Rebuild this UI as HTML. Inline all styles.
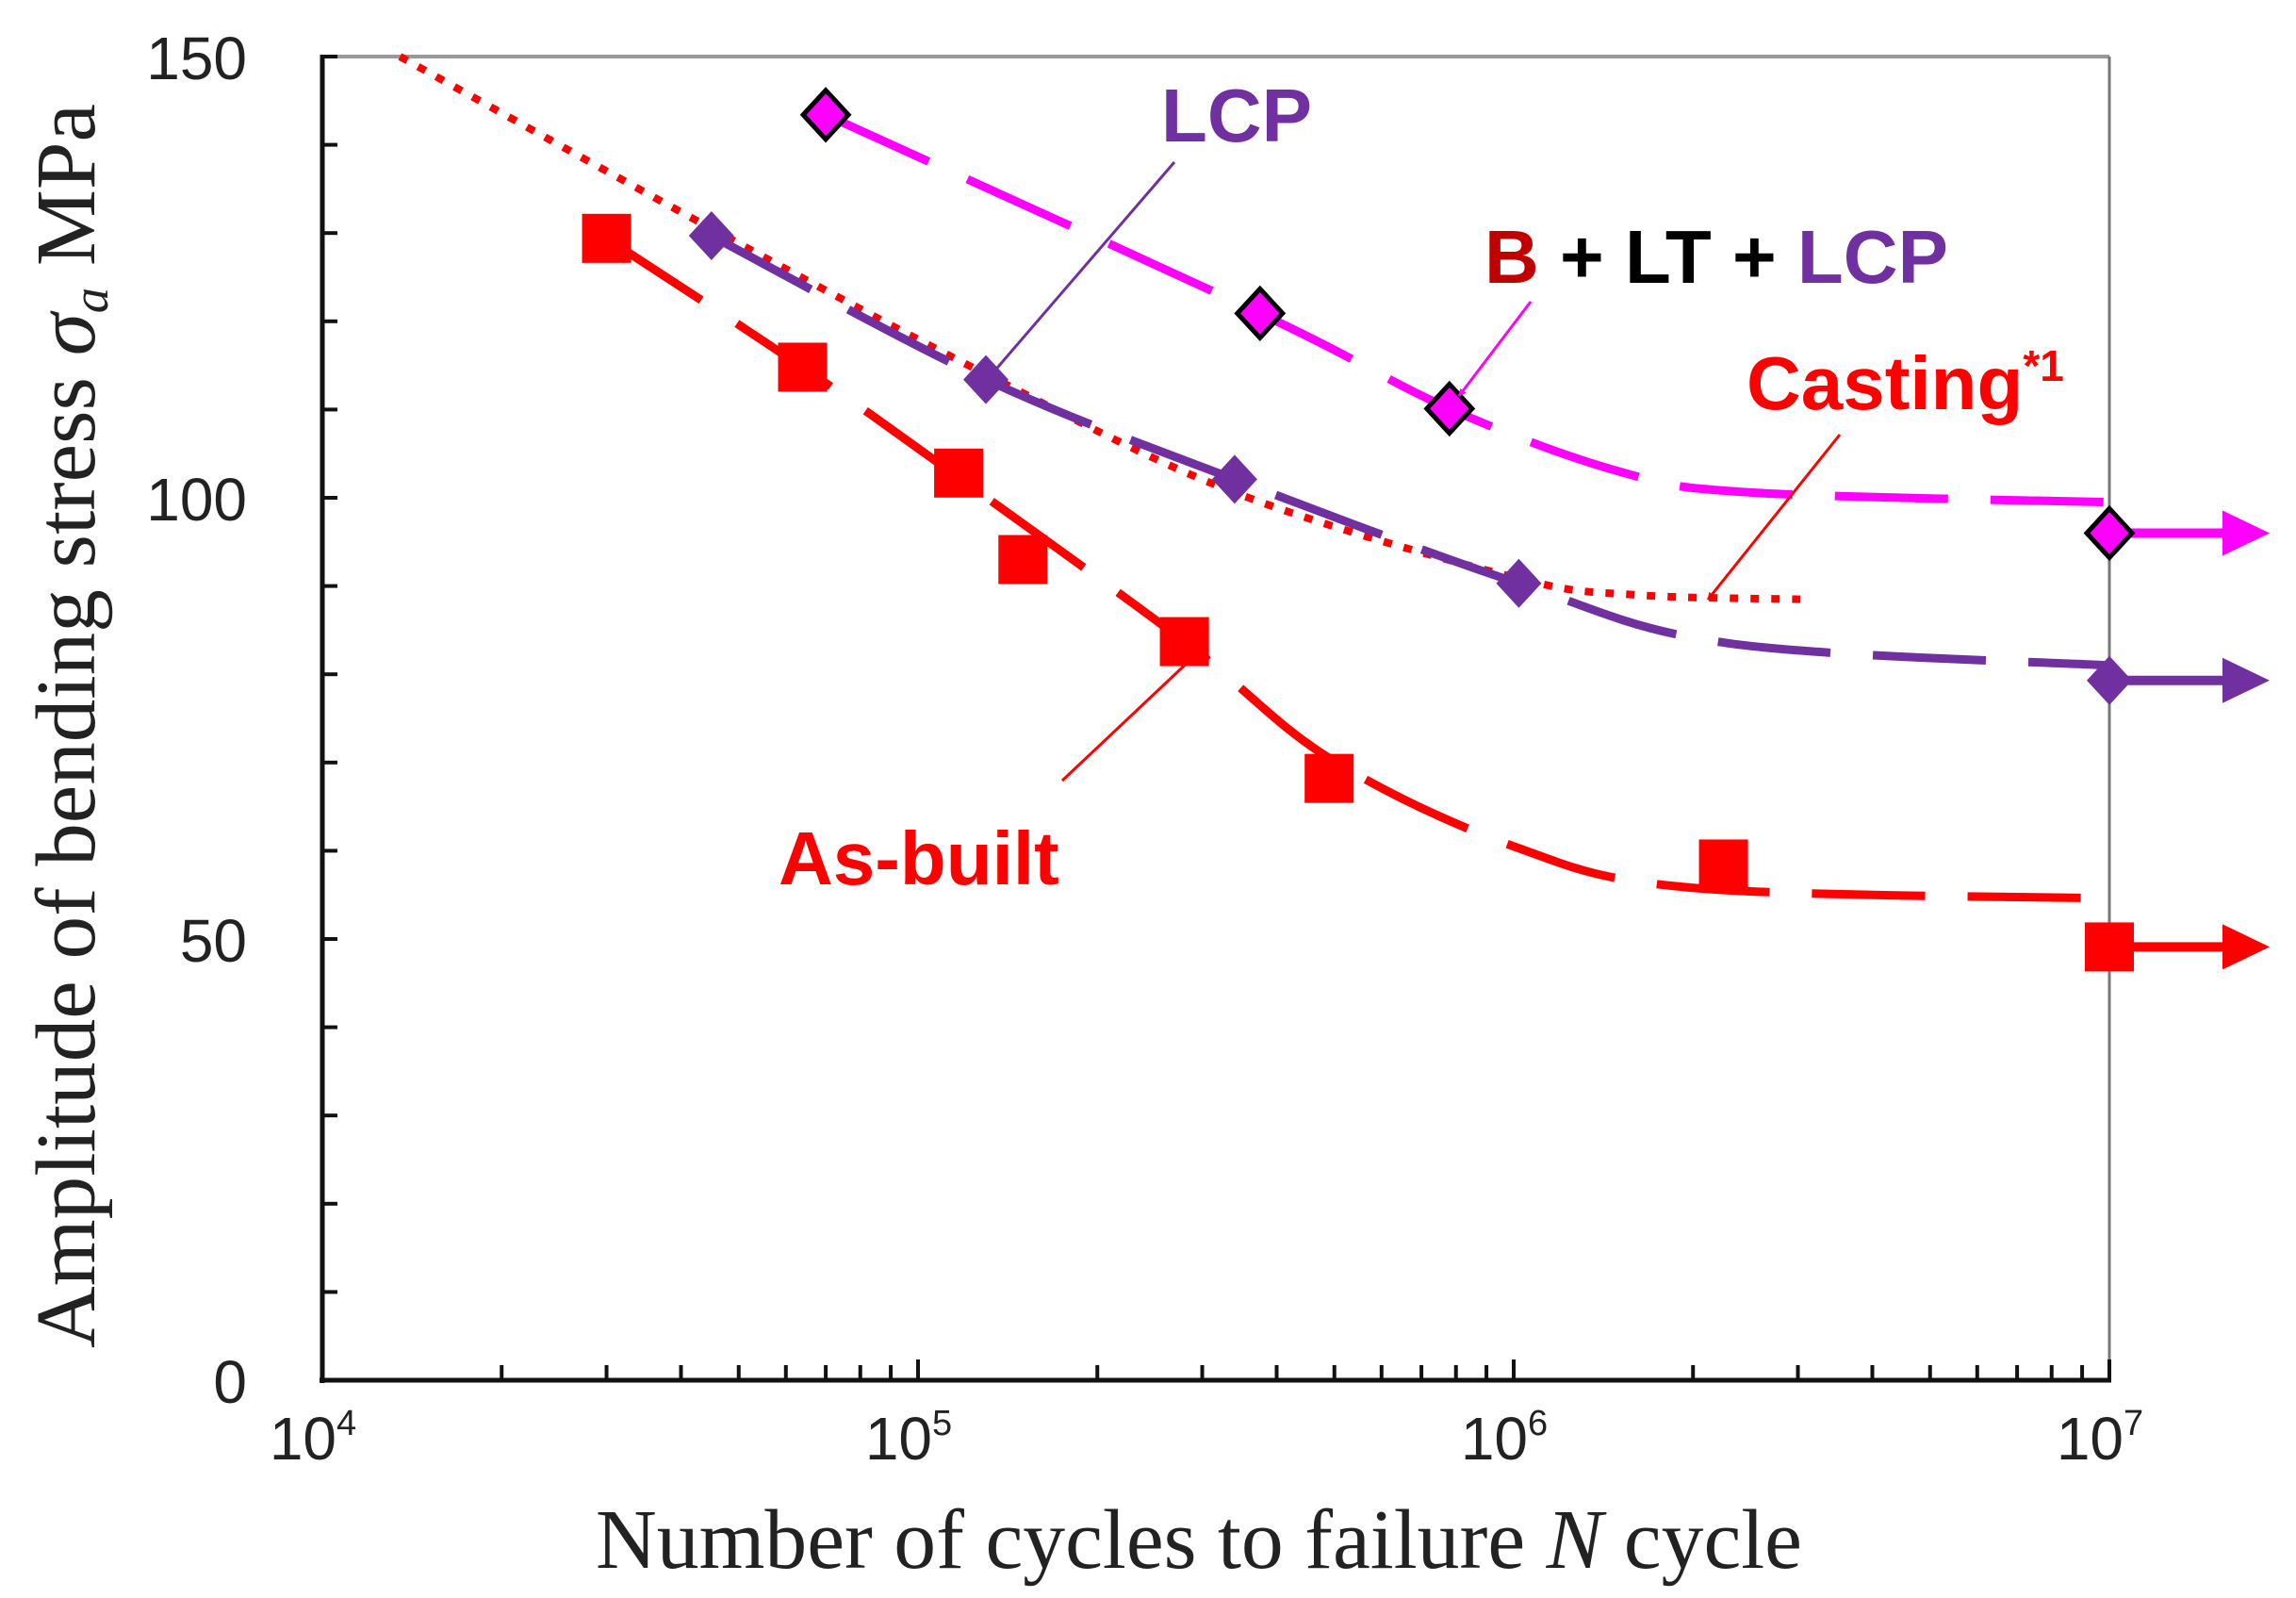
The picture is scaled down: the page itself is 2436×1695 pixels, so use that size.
<!DOCTYPE html>
<html><head><meta charset="utf-8"><style>
html,body{margin:0;padding:0;background:#fff;}
svg{display:block;}
</style></head><body>
<svg id="chart" width="2436" height="1695" viewBox="0 0 2436 1695" xmlns="http://www.w3.org/2000/svg">
<defs>
<marker id="ah" viewBox="0 0 10 10" refX="9" refY="5" markerWidth="8" markerHeight="8" orient="auto" markerUnits="userSpaceOnUse"><path d="M0,0 L10,5 L0,10 z" fill="context-stroke"/></marker>
</defs>
<g id="grid"></g>
<g id="series"></g>
<g id="annot"></g>
</svg>
<script>
// ---- data ----
const xTickExps = [4, 5, 6, 7];
const yTickLabels = [0, 50, 100, 150];
const hybridN = [7e4, 3.75e5, 7.8e5, 1e7];
const hybridS = [143.4, 120.9, 110.1, 96.0];
const lcpN = [4.5e4, 1.3e5, 3.4e5, 1.02e6, 1e7];
const lcpS = [129.7, 113.4, 102.1, 90.3, 79.3];
const asbuiltN = [3e4, 6.4e4, 1.17e5, 1.5e5, 2.8e5, 4.9e5, 2.25e6, 1e7];
const asbuiltS = [129.4, 114.8, 102.8, 93.0, 83.7, 68.2, 58.5, 49.1];
const hybridCurveN = [7e4, 3.75e5, 7.8e5, 1.5e6, 2.5e6, 1e7];
const hybridCurveS = [143.4, 120.9, 110.1, 103.0, 100.6, 99.5];
const lcpCurveN = [4.5e4, 1.3e5, 3.4e5, 1.02e6, 2.3e6, 1e7];
const lcpCurveS = [129.7, 113.4, 102.1, 90.3, 83.5, 81.0];
const asbuiltCurveN = [3e4, 6.4e4, 1.17e5, 2.8e5, 4.9e5, 1e6, 2e6, 1e7];
const asbuiltCurveS = [129.4, 114.8, 102.3, 83.7, 70.5, 60.5, 55.8, 54.6];
const castingN = [1.35e4, 4.5e4, 1.3e5, 3.4e5, 1e6, 1.6e6, 3.04e6];
const castingS = [150, 130.5, 114, 100.6, 91, 89, 88.5];

// ---- axes ----
const X0 = 342, DEC = 632, Y0 = 1464, PXU = 9.36;
const sx = n => X0 + (Math.log10(n) - 4) * DEC;
const sy = s => Y0 - s * PXU;
const NS = 'http://www.w3.org/2000/svg';
function mk(tag, attrs, parent) {
  const e = document.createElementNS(NS, tag);
  for (const k in attrs) e.setAttribute(k, attrs[k]);
  parent.appendChild(e);
  return e;
}
const grid = document.getElementById('grid');
const ser = document.getElementById('series');
const ann = document.getElementById('annot');
const xR = sx(1e7), yT = sy(150);

let e;
e = mk('line', {x1: X0, y1: yT, x2: xR, y2: yT, stroke: '#999', 'stroke-width': 4}, grid);


e = mk('line', {x1: xR, y1: yT, x2: xR, y2: Y0, stroke: '#777', 'stroke-width': 3}, grid);


e = mk('line', {x1: X0, y1: yT - 2, x2: X0, y2: Y0 + 3, stroke: '#111', 'stroke-width': 5}, grid);


e = mk('line', {x1: X0 - 3, y1: Y0, x2: xR + 2, y2: Y0, stroke: '#111', 'stroke-width': 5}, grid);



for (let v = 0; v <= 150; v += 10) {
  e = mk('line', {x1: X0, y1: sy(v), x2: X0 + 16, y2: sy(v), stroke: '#111', 'stroke-width': 4}, grid);
  
  
}
yTickLabels.forEach(v => {
  e = mk('text', {x: 262, y: sy(v) + 24, 'text-anchor': 'end', 'font-family': 'Liberation Sans, sans-serif', 'font-size': 64, fill: '#222'}, grid);
  e.textContent = v;
  
  
});
for (let d = 4; d < 7; d++) {
  for (let m = 2; m <= 10; m++) {
    const n = m * Math.pow(10, d);
    e = mk('line', {x1: sx(n), y1: Y0, x2: sx(n), y2: Y0 - (m === 10 ? 22 : 16), stroke: '#111', 'stroke-width': 4}, grid);
    
    
  }
}
xTickExps.forEach(p => {
  e = mk('text', {x: sx(Math.pow(10, p)) - 10, y: 1548, 'text-anchor': 'middle', 'font-family': 'Liberation Sans, sans-serif', 'font-size': 64, fill: '#222'}, grid);
  
  
  e.textContent = '10';
  const t = mk('tspan', {dy: -26, 'font-size': 38}, e);
  t.textContent = p;
});
e = mk('text', {x: 632, y: 1663, textLength: 1280, lengthAdjust: 'spacingAndGlyphs', 'font-family': 'Liberation Serif, serif', 'font-size': 90, fill: '#222'}, grid);


e.innerHTML = 'Number of cycles to failure  <tspan font-style="italic">N</tspan>  cycle';
e = mk('text', {x: 0, y: 0, transform: 'translate(100,1430) rotate(-90)', textLength: 1320, lengthAdjust: 'spacingAndGlyphs', 'font-family': 'Liberation Serif, serif', 'font-size': 90, fill: '#222'}, grid);


e.innerHTML = 'Amplitude of bending stress  <tspan font-style="italic">σ</tspan><tspan font-style="italic" font-size="54" dy="14">a</tspan><tspan dy="-14">  MPa</tspan>';

function smooth(N, S) {
  const p = N.map((n, i) => [sx(n), sy(S[i])]);
  let d = 'M' + p[0][0] + ',' + p[0][1];
  for (let i = 0; i < p.length - 1; i++) {
    const p0 = p[Math.max(0, i - 1)], p1 = p[i], p2 = p[i + 1], p3 = p[Math.min(p.length - 1, i + 2)];
    const c1 = [p1[0] + (p2[0] - p0[0]) / 6, p1[1] + (p2[1] - p0[1]) / 6];
    const c2 = [p2[0] - (p3[0] - p1[0]) / 6, p2[1] - (p3[1] - p1[1]) / 6];
    d += ' C' + c1 + ' ' + c2 + ' ' + p2;
  }
  return d;
}
e = mk('path', {d: smooth(castingN, castingS), fill: 'none', stroke: '#ff0000', 'stroke-width': 8, 'stroke-dasharray': '9 13'}, ser);


e = mk('path', {d: smooth(asbuiltCurveN, asbuiltCurveS), fill: 'none', stroke: '#ff0000', 'stroke-width': 9, 'stroke-dasharray': '120 45'}, ser);


e = mk('path', {d: smooth(lcpCurveN, lcpCurveS), fill: 'none', stroke: '#7030a0', 'stroke-width': 9, 'stroke-dasharray': '120 45'}, ser);


e = mk('path', {d: smooth(hybridCurveN, hybridCurveS), fill: 'none', stroke: '#ff00ff', 'stroke-width': 9, 'stroke-dasharray': '120 45'}, ser);



function runout(s, col, name) {
  const y = sy(s), x1 = sx(1e7);
  e = mk('line', {x1: x1, y1: y, x2: x1 + 140, y2: y, stroke: col, 'stroke-width': 10}, ser);
  
  
  e = mk('path', {d: `M${x1 + 120},${y - 24} L${x1 + 170},${y} L${x1 + 120},${y + 24} z`, fill: col}, ser);
  
  
}
runout(hybridS[hybridS.length - 1], '#ff00ff', 'hybrid-runout-arrow');
runout(lcpS[lcpS.length - 1], '#7030a0', 'lcp-runout-arrow');
runout(asbuiltS[asbuiltS.length - 1], '#ff0000', 'as-built-runout-arrow');

asbuiltN.forEach((n, i) => {
  e = mk('rect', {x: sx(n) - 26, y: sy(asbuiltS[i]) - 26, width: 52, height: 52, fill: '#ff0000'}, ser);
  
  
});
lcpN.forEach((n, i) => {
  const x = sx(n), y = sy(lcpS[i]);
  e = mk('path', {d: `M${x},${y - 26} L${x + 24},${y} L${x},${y + 26} L${x - 24},${y} z`, fill: '#7030a0'}, ser);
  
  
});
hybridN.forEach((n, i) => {
  const x = sx(n), y = sy(hybridS[i]);
  e = mk('path', {d: `M${x},${y - 26} L${x + 24},${y} L${x},${y + 26} L${x - 24},${y} z`, fill: '#ff00ff', stroke: '#000', 'stroke-width': 5}, ser);
  
  
});

function lbl(x, y, html, name) {
  e = mk('text', {x: x, y: y, 'font-family': 'Liberation Sans, sans-serif', 'font-size': 80, 'font-weight': 'bold'}, ann);
  
  
  e.innerHTML = html;
}
function arrow(x1, y1, x2, y2, col, name) {
  e = mk('line', {x1: x1, y1: y1, x2: x2, y2: y2, stroke: col, 'stroke-width': 3, 'marker-end': 'url(#ah)'}, ann);
  
  
}
lbl(1232, 150, '<tspan fill="#7030a0">LCP</tspan>', 'lcp-label');
arrow(1246, 172, 1053, 396, '#7030a0', 'lcp-label-arrow');
lbl(1575, 300, '<tspan fill="#c00000">B</tspan><tspan fill="#000"> + LT + </tspan><tspan fill="#7030a0">LCP</tspan>', 'hybrid-label');
arrow(1624, 320, 1548, 420, '#ff00ff', 'hybrid-label-arrow');
lbl(1853, 434, '<tspan fill="#ff0000">Casting</tspan><tspan fill="#ff0000" font-size="46" dy="-30">*1</tspan>', 'casting-label');
arrow(1952, 461, 1812, 636, '#ff0000', 'casting-label-arrow');
lbl(826, 938, '<tspan fill="#ff0000">As-built</tspan>', 'as-built-label');
arrow(1127, 828, 1266, 697, '#ff0000', 'as-built-label-arrow');
</script>
</body></html>
